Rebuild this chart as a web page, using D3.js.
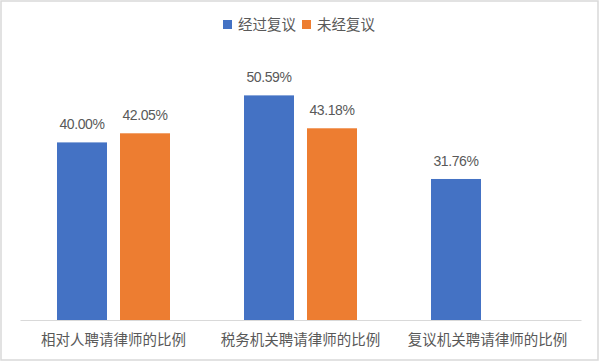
<!DOCTYPE html>
<html><head><meta charset="utf-8">
<script src="https://cdn.jsdelivr.net/npm/d3@7"></script>
<style>
html,body{margin:0;padding:0;background:#fff;}
text{font-family:"Liberation Sans","Noto Sans CJK SC",sans-serif;fill:#595959;}
</style></head>
<body>
<svg id="chart" width="600" height="362"></svg>
<script>
const categories = ["相对人聘请律师的比例", "税务机关聘请律师的比例", "复议机关聘请律师的比例"];
const seriesNames = ["经过复议", "未经复议"];
const reviewed = [40.00, 50.59, 31.76];
const notReviewed = [42.05, 43.18, null];
const colors = ["#4472C4", "#ED7D31"];

const svg = d3.select("#chart");
svg.append("rect").attr("x",1).attr("y",1).attr("width",597).attr("height",359)
  .attr("fill","#fff").attr("stroke","#d9d9d9").attr("stroke-width",1.5);

const x0 = d3.scaleBand().domain(categories).range([20,581]).paddingInner(0).paddingOuter(0);
const groupW = 113;
const x1 = d3.scaleBand().domain(seriesNames).range([0,groupW]).paddingInner(13/113*2/2);
const y = d3.scaleLinear().domain([0,60]).range([320,53.6]);

const data = categories.map((c,i)=>({cat:c, vals:[reviewed[i], notReviewed[i]]}));

const g = svg.append("g");
data.forEach(d=>{
  const gx = x0(d.cat) + (x0.bandwidth()-groupW)/2;
  d.vals.forEach((v,j)=>{
    if(v==null) return;
    const bx = gx + j*(50+13);
    g.append("rect").attr("x",bx).attr("y",y(v)).attr("width",50).attr("height",y(0)-y(v))
      .attr("fill",colors[j]);
    g.append("text").attr("x",bx+25).attr("y",y(v)-13).attr("text-anchor","middle")
      .style("font-size","14px").style("letter-spacing","-0.4px").text(v.toFixed(2)+"%");
  });
});

// x axis
const xAxis = svg.append("g").attr("transform","translate(0,320)")
  .call(d3.axisBottom(x0).tickSize(0).tickPadding(0));
xAxis.select(".domain").attr("stroke","#d9d9d9").attr("stroke-width",1);
xAxis.selectAll(".tick text").attr("dy",null).attr("y",25)
  .style("font-size","14.5px").style("font-family","'Noto Sans CJK SC',sans-serif").attr("fill","#595959");

// legend
const legend = svg.append("g");
const legX = [223, 302];
seriesNames.forEach((n,i)=>{
  legend.append("rect").attr("x",legX[i]).attr("y",20).attr("width",9).attr("height",9).attr("fill",colors[i]);
  legend.append("text").attr("x",legX[i]+15).attr("y",29.5)
    .style("font-size","14.5px").style("font-family","'Noto Sans CJK SC',sans-serif").text(n);
});
</script>
</body></html>
